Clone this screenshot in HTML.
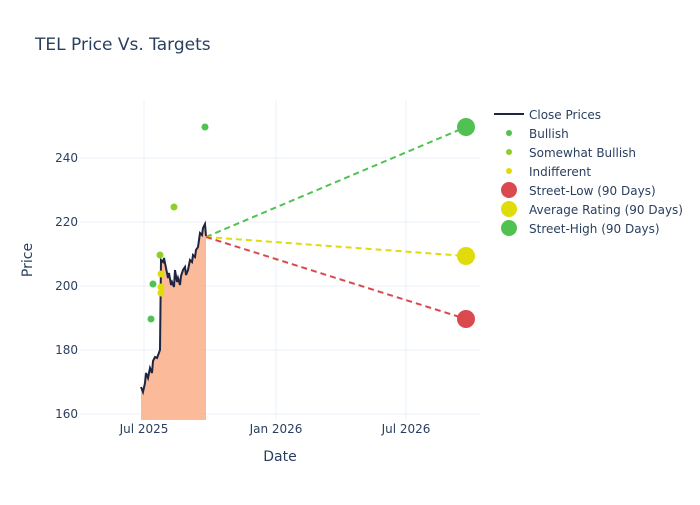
<!DOCTYPE html>
<html><head><style>
body{margin:0;background:#fff;font-family:"Liberation Sans","DejaVu Sans",sans-serif;}
</style></head><body>
<svg width="700" height="500" xmlns="http://www.w3.org/2000/svg" font-family="DejaVu Sans, Liberation Sans, sans-serif">
<rect width="700" height="500" fill="#fff"/>
<text x="35" y="50" font-size="17" fill="#2a3f5f">TEL Price Vs. Targets</text>
<g stroke="#ebf0f8" stroke-width="1">
<line x1="80" y1="414" x2="480" y2="414"/><line x1="80" y1="350" x2="480" y2="350"/>
<line x1="80" y1="286" x2="480" y2="286"/><line x1="80" y1="222" x2="480" y2="222"/>
<line x1="80" y1="158" x2="480" y2="158"/>
<line x1="144" y1="100" x2="144" y2="420"/><line x1="276" y1="100" x2="276" y2="420"/><line x1="406" y1="100" x2="406" y2="420"/>
</g>
<g font-size="12" fill="#2a3f5f" text-anchor="end">
<text x="78" y="418">160</text><text x="78" y="354">180</text><text x="78" y="290">200</text><text x="78" y="226">220</text><text x="78" y="162">240</text>
</g>
<g font-size="12" fill="#2a3f5f" text-anchor="middle">
<text x="144" y="433">Jul 2025</text><text x="276" y="433">Jan 2026</text><text x="406" y="433">Jul 2026</text>
<text x="280" y="461" font-size="14">Date</text>
</g>
<text x="32" y="260" font-size="14" fill="#2a3f5f" text-anchor="middle" transform="rotate(-90 32 260)">Price</text>
<polygon fill="#fbb48f" opacity="0.9" points="141,420 141,387 143,392 145,383 146,373 148,378 150,368 152,373 153,361 155,357 157,358 160,350 161,260 163,262 164,258 166,268 168,278 169,273 171,285 172,282 174,287 175,270 177,282 178,278 180,285 181,276 183,270 185,267 186,275 188,270 190,260 192,262 193,255 195,257 196,250 198,247 200,233 202,235 203,228 205,224 206,236 206,420"/>
<polyline fill="none" stroke="#1f2440" stroke-width="2" points="141,387 143,392 145,383 146,373 148,378 150,368 152,373 153,361 155,357 157,358 160,350 161,260 163,262 164,258 166,268 168,278 169,273 171,285 172,282 174,287 175,270 177,282 178,278 180,285 181,276 183,270 185,267 186,275 188,270 190,260 192,262 193,255 195,257 196,250 198,247 200,233 202,235 203,228 205,224 206,236"/>
<g stroke-width="2" stroke-dasharray="6,4" fill="none">
<line x1="206" y1="237" x2="466" y2="127" stroke="#51c252"/>
<line x1="206" y1="237" x2="466" y2="256" stroke="#e0db0b"/>
<line x1="206" y1="237" x2="466" y2="319" stroke="#d9494d"/>
</g>
<circle cx="466" cy="127" r="9" fill="#51c252"/>
<circle cx="466" cy="256" r="9" fill="#e0db0b"/>
<circle cx="466" cy="319" r="9" fill="#d9494d"/>
<g r="3.5">
<circle cx="205" cy="127" r="3.5" fill="#51c252"/>
<circle cx="174" cy="207" r="3.5" fill="#8fce2a"/>
<circle cx="160" cy="255" r="3.5" fill="#8fce2a"/>
<circle cx="153" cy="284" r="3.5" fill="#51c252"/>
<circle cx="151" cy="319" r="3.5" fill="#51c252"/>
<circle cx="161" cy="274" r="3.5" fill="#e0db0b"/>
<circle cx="161" cy="287" r="3.5" fill="#e0db0b"/>
<circle cx="161" cy="293" r="3.5" fill="#e0db0b"/>
</g>
<g font-size="12" fill="#2a3f5f">
<line x1="494" y1="114" x2="524" y2="114" stroke="#1f2440" stroke-width="2"/>
<text x="529" y="119">Close Prices</text>
<circle cx="509" cy="133" r="3" fill="#51c252"/><text x="529" y="138">Bullish</text>
<circle cx="509" cy="152" r="3" fill="#8fce2a"/><text x="529" y="157">Somewhat Bullish</text>
<circle cx="509" cy="171" r="3" fill="#e0db0b"/><text x="529" y="176">Indifferent</text>
<circle cx="509" cy="190" r="8" fill="#d9494d"/><text x="529" y="195">Street-Low (90 Days)</text>
<circle cx="509" cy="209" r="8" fill="#e0db0b"/><text x="529" y="214">Average Rating (90 Days)</text>
<circle cx="509" cy="228" r="8" fill="#51c252"/><text x="529" y="233">Street-High (90 Days)</text>
</g>
</svg>
</body></html>
